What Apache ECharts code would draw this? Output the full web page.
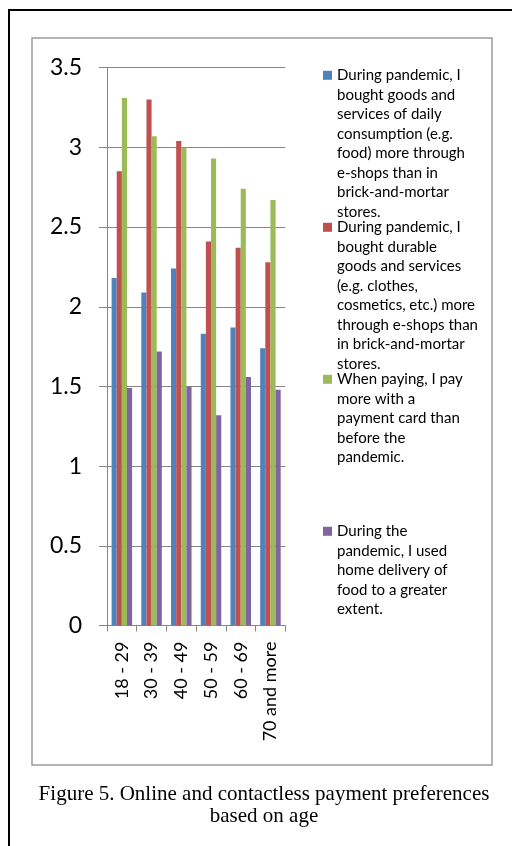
<!DOCTYPE html>
<html>
<head>
<meta charset="utf-8">
<script src="https://cdn.jsdelivr.net/npm/echarts@6/dist/echarts.min.js"></script>
<style>
  html, body { margin: 0; padding: 0; background: #fff; }
  #main { width: 512px; height: 846px; }
</style>
</head>
<body>
<div id="main"></div>
<script>
// age groups on the x axis
var ageGroups = ['18 - 29', '30 - 39', '40 - 49', '50 - 59', '60 - 69', '70 and more'];

// mean answers per age group
var dailyGoods   = [2.18, 2.09, 2.24, 1.83, 1.87, 1.74];
var durableGoods = [2.85, 3.30, 3.04, 2.41, 2.37, 2.28];
var paymentCard  = [3.31, 3.07, 3.00, 2.93, 2.74, 2.67];
var homeDelivery = [1.49, 1.72, 1.50, 1.32, 1.56, 1.48];

var seriesNames = [
  'During pandemic, I bought goods and services of daily consumption (e.g. food) more through e-shops than in brick-and-mortar stores.',
  'During pandemic, I bought durable goods and services (e.g. clothes, cosmetics, etc.) more through e-shops than in brick-and-mortar stores.',
  'When paying, I pay more with a payment card than before the pandemic.',
  'During the pandemic, I used home delivery of food to a greater extent.'
];
// how the legend wraps each name
var legendLines = [
  ['During pandemic, I', 'bought goods and', 'services of daily', 'consumption (e.g.', 'food) more through', 'e-shops than in', 'brick-and-mortar', 'stores.'],
  ['During pandemic, I', 'bought durable', 'goods and services', '(e.g. clothes,', 'cosmetics, etc.) more', 'through e-shops than', 'in brick-and-mortar', 'stores.'],
  ['When paying, I pay', 'more with a', 'payment card than', 'before the', 'pandemic.'],
  ['During the', 'pandemic, I used', 'home delivery of', 'food to a greater', 'extent.']
];
var seriesValues = [dailyGoods, durableGoods, paymentCard, homeDelivery];
var seriesColors = ['#4F81BD', '#C0504D', '#9BBB59', '#8064A2'];

var caption = 'Figure 5. Online and contactless payment preferences\nbased on age';

var chart = echarts.init(document.getElementById('main'), null, { renderer: 'canvas' });

var LH = 19.5;        // legend line height
var firstLine = 75.3; // centre of the first legend line
var legendStep = 152;

var legends = [];
for (var i = 0; i < seriesNames.length; i++) {
  var n = legendLines[i].length;
  legends.push({
    data: [seriesNames[i]],
    orient: 'vertical',
    left: 323,
    // legend text is centred on the icon, so blank lines go in front
    // to put the icon next to the first line
    top: firstLine + i * legendStep - (2 * n - 1) * LH / 2,
    padding: 0,
    icon: 'rect',
    itemWidth: 9,
    itemHeight: 9,
    selectedMode: false,
    formatter: (function (idx) {
      return function () {
        var blanks = new Array(legendLines[idx].length).join('\n');
        return blanks + legendLines[idx].join('\n');
      };
    })(i),
    textStyle: {
      fontFamily: 'Lato',
      fontSize: 15,
      lineHeight: LH,
      color: '#000'
    }
  });
}

var series = [];
for (var s = 0; s < seriesNames.length; s++) {
  series.push({
    name: seriesNames[s],
    type: 'bar',
    data: seriesValues[s],
    barGap: 0,
    barCategoryGap: '31%',
    itemStyle: { color: seriesColors[s] }
  });
}

var option = {
  animation: false,
  backgroundColor: '#fff',
  textStyle: { fontFamily: 'Lato' },
  title: {
    text: caption,
    left: 264,
    top: 783.6,
    padding: 0,
    textAlign: 'center',
    textStyle: {
      fontFamily: 'Liberation Serif',
      fontSize: 21,
      lineHeight: 22,
      fontWeight: 'normal',
      color: '#000'
    }
  },
  graphic: [
    {
      type: 'rect',
      shape: { x: 9, y: 10, width: 700, height: 1000 },
      style: { fill: 'none', stroke: '#000', lineWidth: 2 },
      silent: true
    },
    {
      type: 'rect',
      shape: { x: 32, y: 38, width: 460, height: 727 },
      style: { fill: 'none', stroke: '#9c9c9c', lineWidth: 1.5 },
      silent: true
    }
  ],
  legend: legends,
  grid: { left: 107, right: 226.7, top: 67.7, bottom: 220.5, containLabel: false },
  xAxis: {
    type: 'category',
    data: ageGroups,
    axisLine: { lineStyle: { color: '#868686', width: 1 } },
    axisTick: { show: true, length: 6, interval: 0, lineStyle: { color: '#868686' } },
    axisLabel: {
      rotate: 90,
      interval: 0,
      margin: 16,
      fontFamily: 'Lato',
      fontSize: 18,
      color: '#000'
    }
  },
  yAxis: {
    type: 'value',
    min: 0,
    max: 3.5,
    interval: 0.5,
    axisLine: { show: true, lineStyle: { color: '#868686', width: 1 } },
    axisTick: { show: true, length: 8, lineStyle: { color: '#868686' } },
    splitLine: { show: true, lineStyle: { color: '#868686', width: 1 } },
    axisLabel: {
      margin: 25,
      fontFamily: 'Lato',
      fontSize: 23,
      color: '#000'
    }
  },
  series: series
};

chart.setOption(option);
</script>
</body>
</html>
